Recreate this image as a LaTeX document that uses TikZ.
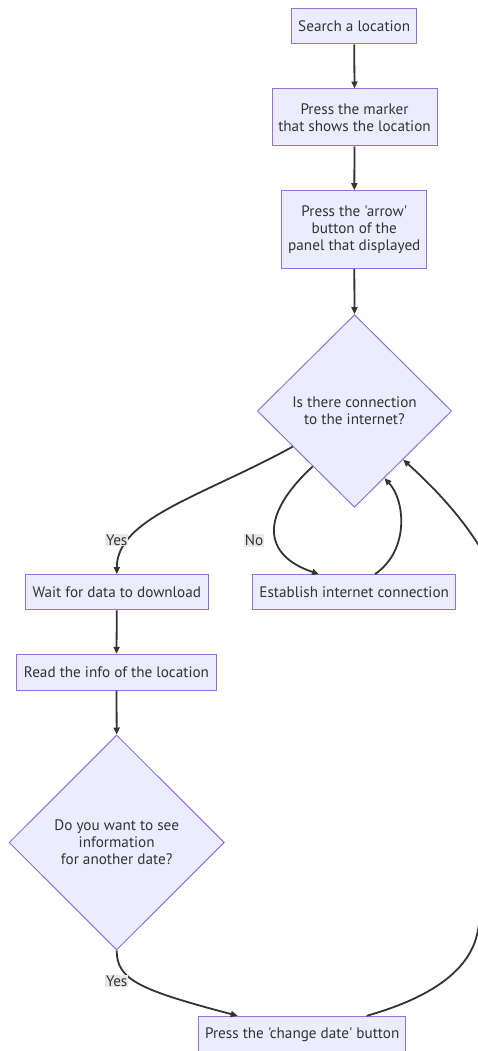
\documentclass[tikz,border=0pt]{standalone}
\usepackage{fontspec}
\setmainfont{PT Sans}[Ligatures=TeXOff]
\usetikzlibrary{shapes.geometric,arrows.meta}
\definecolor{boxfill}{HTML}{ECECFF}
\definecolor{boxline}{HTML}{9370DB}
\definecolor{edgecol}{HTML}{333333}
\definecolor{txtcol}{HTML}{333333}
\definecolor{lblfill}{HTML}{E8E8E8}
\tikzset{
  x=1pt, y=-1pt,
  every node/.style={font=\fontsize{15.2}{17}\selectfont, text=txtcol},
  procbox/.style={draw=boxline, fill=boxfill, line width=1pt, rectangle,
    inner sep=0pt, align=center},
  decision/.style={draw=boxline, fill=boxfill, line width=1pt, diamond,
    inner sep=0pt, align=center},
  flow/.style={draw=edgecol, line width=1.8pt,
    -{Triangle[length=7pt,width=6pt]}},
  edgelabel/.style={fill=lblfill, inner sep=1pt}
}
\begin{document}
\begin{tikzpicture}
\useasboundingbox (0,0) rectangle (478,1051);
\clip (0,0) rectangle (478,1051);

% process steps and decisions
\node[procbox, minimum width=125pt, minimum height=35pt] (s1) at (354.2,26.5) {Search a location};
\node[procbox, minimum width=165pt, minimum height=57pt] (s2) at (354.5,117.5) {Press the marker\\that shows the location};
\node[procbox, minimum width=145.3pt, minimum height=78pt] (s3) at (354.3,229.7) {Press the 'arrow'\\button of the\\panel that displayed};
\node[decision, minimum width=194.4pt, minimum height=192.7pt] (d1) at (354.5,411) {Is there connection\\to the internet?};
\node[procbox, minimum width=183pt, minimum height=35.3pt] (wait) at (116.8,592.3) {Wait for data to download};
\node[procbox, minimum width=203pt, minimum height=35.3pt] (est) at (354.2,592.3) {Establish internet connection};
\node[procbox, minimum width=200.4pt, minimum height=35.7pt] (read) at (116.5,672.2) {Read the info of the location};
\node[decision, minimum width=215.3pt, minimum height=215pt] (d2) at (116.7,842.5) {Do you want to see\\information\\for another date?};
\node[procbox, minimum width=207pt, minimum height=36pt] (cd) at (302.2,1034.3) {Press the 'change date' button};

% straight links
\draw[flow] (s1.south) -- (s2.north);
\draw[flow] (s2.south) -- (s3.north);
\draw[flow] (s3.south) -- (d1.north);
\draw[flow] (wait.south) -- (read.north);
\draw[flow] (read.south) -- (d2.north);

% branches of the connection check
\draw[flow] (d1.210) .. controls (203,496) and (116.8,518) .. (wait.north);
\draw[flow] (d1.233) .. controls (260,515) and (262,555) .. ([xshift=-35.2pt]est.north);
\draw[flow] ([xshift=20.8pt]est.north) .. controls (410,550) and (405,500) .. (d1.294);

% change date branch and loop back
\draw[flow] (d2.south) .. controls (116.7,980) and (140,990) .. ([xshift=-64.5pt]cd.north);
\draw[flow] ([xshift=64.5pt]cd.north) .. controls (440,995) and (472,965) .. (478,930)
  .. controls (490,860) and (505,680) .. (500,600)
  .. controls (498,570) and (470,520) .. (d1.315);

% edge labels
\node[edgelabel] (lyes1) at (116.7,540) {Yes};
\node[edgelabel] (lno) at (254,540) {No};
\node[edgelabel] (lyes2) at (116.7,981) {Yes};
\end{tikzpicture}
\end{document}
